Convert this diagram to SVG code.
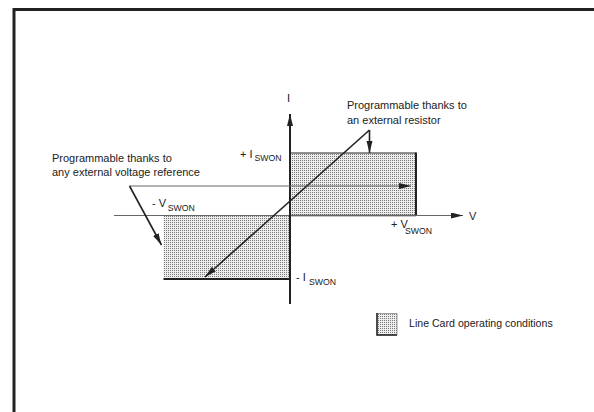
<svg xmlns="http://www.w3.org/2000/svg" width="594" height="412" viewBox="0 0 594 412">
<style>
  text { font-family: "Liberation Sans", Arial, sans-serif; font-size: 11px; fill: #222; }
  .sub { font-size: 8.7px; }
  .axis { stroke: #666; stroke-width: 1; fill: none; }
  .yaxis { stroke: #222; stroke-width: 2; fill: none; }
  .edge { stroke: #222; fill: none; }
  .conn { stroke: #222; stroke-width: 1.6; fill: none; }
  .thin { stroke: #666; stroke-width: 1; fill: none; }
</style>
<defs>
  <pattern id="dots" width="2" height="2" patternUnits="userSpaceOnUse">
    <rect width="2" height="2" fill="#eeeeee"/>
    <rect width="1" height="1" fill="#777777"/>
  </pattern>
  <marker id="ah" markerUnits="userSpaceOnUse" markerWidth="13" markerHeight="7" refX="12" refY="3" orient="auto">
    <path d="M0,0 L12,3 L0,6 z" fill="#222"/>
  </marker>
</defs>
<rect width="594" height="412" fill="#fff"/>
<g id="frame">
  <path d="M14,412 V9.5 H594" stroke="#222" stroke-width="3" fill="none"/>
</g>
<g id="regions">
  <g id="upper-region">
    <rect x="290" y="153" width="126" height="62.5" fill="url(#dots)"/>
    <path d="M290,153 H416" class="edge" stroke-width="1"/>
    <path d="M416,152.5 V216" class="edge" stroke-width="2"/>
    <path d="M290,215.5 H416" class="edge" stroke-width="1.5"/>
  </g>
  <g id="lower-region">
    <rect x="163.5" y="215.5" width="126.5" height="63.5" fill="url(#dots)"/>
    <path d="M163.5,279 H290" class="edge" stroke-width="2"/>
  </g>
</g>
<g id="axes">
  <path d="M114,215.5 H463" class="axis" marker-end="url(#ah)"/>
  <path d="M290,304 V114" class="yaxis" marker-end="url(#ah)"/>
  <text x="287" y="102">I</text>
  <text x="469" y="220">V</text>
</g>
<g id="labels">
  <text x="240" y="158">+ I<tspan class="sub" x="254.5" y="161">SWON</tspan></text>
  <text x="296" y="281">- I<tspan class="sub" x="309" y="285">SWON</tspan></text>
  <text x="152" y="207">- V<tspan class="sub" x="167.8" y="211">SWON</tspan></text>
  <text x="391" y="228">+ V<tspan class="sub" x="405" y="233.5">SWON</tspan></text>
  <text x="52" y="161.5">Programmable thanks to</text>
  <text x="52" y="176">any external voltage reference</text>
  <text x="347" y="109">Programmable thanks to</text>
  <text x="347" y="123.5">an external resistor</text>
</g>
<g id="connectors">
  <path d="M129.5,186 H411" class="thin" marker-end="url(#ah)"/>
  <path d="M129.5,186 L161.5,245" class="conn" marker-end="url(#ah)"/>
  <path d="M369.5,130 L205,277" class="conn" marker-end="url(#ah)"/>
  <path d="M369.5,130 V153" class="conn" marker-end="url(#ah)"/>
</g>
<g id="legend">
  <rect x="377" y="313.5" width="20" height="21.5" fill="url(#dots)" stroke="#888" stroke-width="0.8"/>
  <path d="M377,313 V335 H397" stroke="#222" stroke-width="1.5" fill="none"/>
  <text x="409" y="327" style="font-size:10.6px">Line Card operating conditions</text>
</g>
</svg>
